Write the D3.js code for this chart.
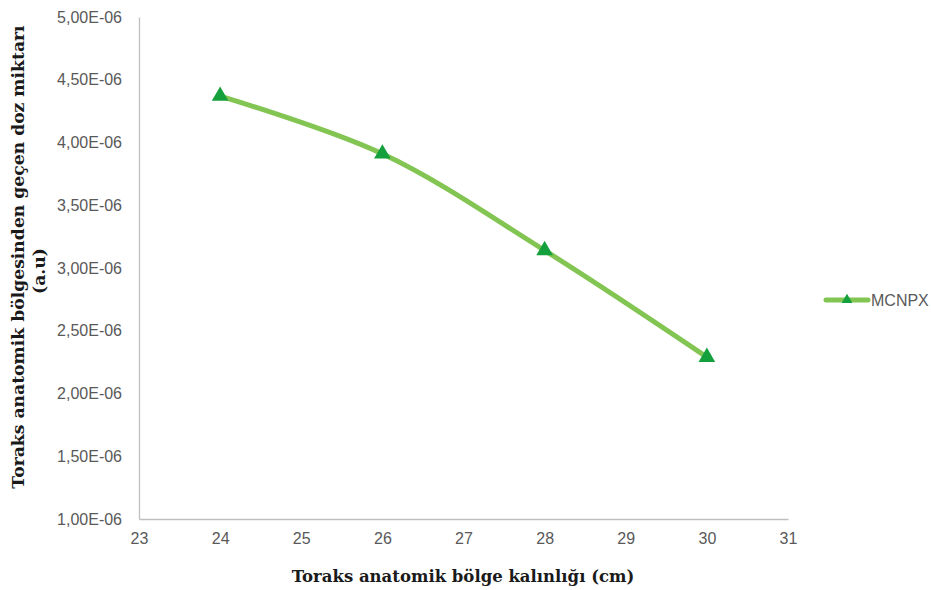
<!DOCTYPE html>
<html>
<head>
<meta charset="utf-8">
<script src="https://cdn.jsdelivr.net/npm/d3@7/dist/d3.min.js"></script>
<style>
  html, body { margin: 0; padding: 0; background: #fff; }
  svg { display: block; }
</style>
</head>
<body>
<svg id="chart" width="931" height="590"></svg>
<script>
// Thickness of the thorax region (cm) and transmitted dose (a.u)
const thickness = [24, 26, 28, 30];
const dose = [4.37e-6, 3.91e-6, 3.14e-6, 2.29e-6];
const seriesName = "MCNPX";

const xTicks = [23, 24, 25, 26, 27, 28, 29, 30, 31];
const yTicks = [1e-6, 1.5e-6, 2e-6, 2.5e-6, 3e-6, 3.5e-6, 4e-6, 4.5e-6, 5e-6];

const xTitle = "Toraks anatomik bölge kalınlığı (cm)";
const yTitleLines = ["Toraks anatomik bölgesinden geçen doz miktarı", "(a.u)"];

const svg = d3.select("#chart");

const plot = { left: 139, right: 788, top: 17, bottom: 519 };

const x = d3.scaleLinear().domain([23, 31]).range([plot.left, plot.right]);
const y = d3.scaleLinear().domain([1e-6, 5e-6]).range([plot.bottom, plot.top]);

const tickFont = "'Liberation Sans', Arial, sans-serif";
const tickColor = "#595959";
const axisColor = "#bfbfbf";

// Tick format like "4,50E-06"
function sci(v) {
  const e = Math.floor(Math.log10(v) + 1e-9);
  const m = v / Math.pow(10, e);
  const sign = e < 0 ? "-" : "+";
  const ee = String(Math.abs(e)).padStart(2, "0");
  return m.toFixed(2).replace(".", ",") + "E" + sign + ee;
}

// Y axis
const yAxis = svg.append("g")
  .attr("transform", `translate(${plot.left},0)`)
  .call(d3.axisLeft(y).tickValues(yTicks).tickFormat(sci).tickSize(0).tickPadding(17));
yAxis.select(".domain").attr("stroke", axisColor).attr("stroke-width", 1.3);
yAxis.selectAll("text")
  .attr("font-family", tickFont).attr("font-size", 16).attr("fill", tickColor);

// X axis
const xAxis = svg.append("g")
  .attr("transform", `translate(0,${plot.bottom})`)
  .call(d3.axisBottom(x).tickValues(xTicks).tickFormat(d3.format("d")).tickSize(0).tickPadding(14));
xAxis.select(".domain").attr("stroke", axisColor).attr("stroke-width", 1.3);
xAxis.selectAll("text")
  .attr("font-family", tickFont).attr("font-size", 16).attr("fill", tickColor);

// Smoothed series line
const pts = thickness.map((t, i) => [t, dose[i]]);
const line = d3.line()
  .x(d => x(d[0]))
  .y(d => y(d[1]))
  .curve(d3.curveCatmullRom.alpha(0.5));

const lineColor = "#82c552";
const markerColor = "#14a03c";

svg.append("path")
  .datum(pts)
  .attr("d", line)
  .attr("fill", "none")
  .attr("stroke", lineColor)
  .attr("stroke-width", 5)
  .attr("stroke-linecap", "round");

const tri = d3.symbol().type(d3.symbolTriangle).size(120);
svg.append("g").selectAll("path")
  .data(pts)
  .join("path")
  .attr("d", tri)
  .attr("transform", d => `translate(${x(d[0])},${y(d[1])})`)
  .attr("fill", markerColor);

// Legend
const legend = svg.append("g").attr("transform", "translate(826,300)");
legend.append("line")
  .attr("x1", 0).attr("x2", 42).attr("y1", 0).attr("y2", 0)
  .attr("stroke", lineColor).attr("stroke-width", 5).attr("stroke-linecap", "round");
legend.append("path")
  .attr("d", d3.symbol().type(d3.symbolTriangle).size(50))
  .attr("transform", "translate(21,0)")
  .attr("fill", markerColor);
legend.append("text")
  .attr("x", 45).attr("y", 0).attr("dy", "0.35em")
  .attr("font-family", tickFont).attr("font-size", 16).attr("fill", tickColor)
  .text(seriesName);

// Axis titles
const titleFont = "'DejaVu Serif', 'Liberation Serif', serif";
svg.append("text")
  .attr("x", 463).attr("y", 582)
  .attr("text-anchor", "middle")
  .attr("font-family", titleFont).attr("font-weight", "bold").attr("font-size", 16.5)
  .attr("fill", "#1a1a1a")
  .text(xTitle);

const yt = svg.append("text")
  .attr("transform", "translate(24,257) rotate(-90)")
  .attr("text-anchor", "middle")
  .attr("font-family", titleFont).attr("font-weight", "bold").attr("font-size", 17.2)
  .attr("fill", "#1a1a1a");
yt.selectAll("tspan")
  .data(yTitleLines)
  .join("tspan")
  .attr("x", (d, i) => i === 0 ? 0 : -14)
  .attr("dy", (d, i) => i === 0 ? 0 : 21)
  .text(d => d);
</script>
</body>
</html>
